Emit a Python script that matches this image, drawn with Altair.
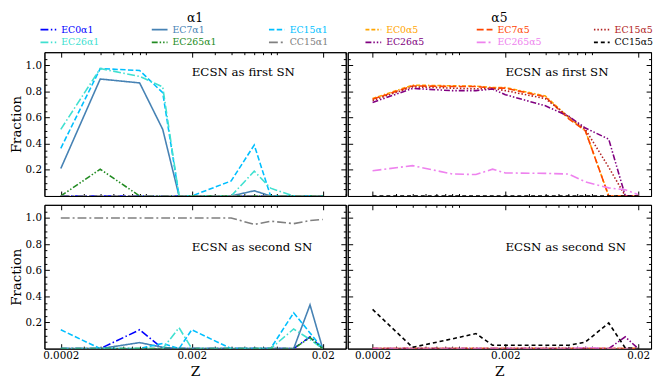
import altair as alt
import pandas as pd

FONT = "DejaVu Serif"

# metallicity grid
Z = [0.0002, 0.0004, 0.0008, 0.0012, 0.0016, 0.002, 0.004, 0.006, 0.008, 0.012, 0.016, 0.02]

# series names, colours and dash styles
NAMES_A1 = ["EC0α1", "EC7α1", "EC15α1", "EC26α1", "EC265α1", "CC15α1"]
NAMES_A5 = ["EC0α5", "EC7α5", "EC15α5", "EC26α5", "EC265α5", "CC15α5"]
COLORS_A1 = ["#0000ff", "#4682b4", "#00bfff", "#40e0d0", "#228b22", "#808080"]
COLORS_A5 = ["#ffa500", "#ff4500", "#b22222", "#800080", "#ee82ee", "#000000"]
DASH_A1 = [[8, 2.5, 1.5, 2.5], [1, 0], [5.5, 2.4], [8, 2.5, 1.5, 2.5], [6, 2, 1.5, 2, 1.5, 2], [9, 3, 2, 3]]
DASH_A5 = [[4, 2, 4, 2, 1.5, 2], [7, 3], [1.5, 2], [6, 2, 1.5, 2, 1.5, 2], [9, 3, 2, 3], [4, 3]]

GROUP_TITLES = ["α1", "α5"]
PANEL_TEXT = ["ECSN as first SN", "ECSN as second SN"]
PANEL_TEXT_Y = [0.95, 0.78]

# ECSN as first SN
FIRST_A1 = {
    "EC0α1":   [0, 0, 0, 0, 0, 0, 0, 0, 0, 0, 0, 0],
    "EC7α1":   [0.21, 0.895, 0.865, 0.51, 0, 0, 0, 0.04, 0, 0, 0, 0],
    "EC15α1":  [0.365, 0.975, 0.96, 0.79, 0, 0, 0.115, 0.39, 0, 0, 0, 0],
    "EC26α1":  [0.51, 0.975, 0.915, 0.835, 0, 0, 0, 0.19, 0.06, 0, 0, 0],
    "EC265α1": [0, 0.205, 0, 0, 0, 0, 0, 0, 0, 0, 0, 0],
    "CC15α1":  [0, 0, 0, 0, 0, 0, 0, 0, 0, 0, 0, 0],
}
FIRST_A5 = {
    "EC0α5":   [0.745, 0.848, 0.843, 0.84, 0.83, 0.83, 0.765, 0.60, 0.50, 0, 0, 0],
    "EC7α5":   [0.74, 0.842, 0.838, 0.838, 0.825, 0.825, 0.758, 0.59, 0.50, 0, 0, 0],
    "EC15α5":  [0.73, 0.835, 0.825, 0.82, 0.823, 0.806, 0.745, 0.607, 0.51, 0.22, 0, 0],
    "EC26α5":  [0.716, 0.823, 0.806, 0.806, 0.818, 0.775, 0.69, 0.61, 0.52, 0.435, 0, 0],
    "EC265α5": [0.193, 0.232, 0.168, 0.164, 0.205, 0.176, 0.173, 0.168, 0.108, 0.062, 0.047, 0.01],
    "CC15α5":  [0, 0, 0, 0, 0, 0, 0, 0, 0, 0, 0, 0],
}
# ECSN as second SN
SECOND_A1 = {
    "EC0α1":   [0, 0, 0.144, 0, 0, 0, 0, 0, 0, 0, 0.09, 0],
    "EC7α1":   [0, 0, 0.046, 0.01, 0, 0, 0, 0, 0, 0, 0.335, 0],
    "EC15α1":  [0.144, 0, 0, 0.04, 0, 0.144, 0, 0, 0, 0.274, 0.12, 0],
    "EC26α1":  [0, 0, 0, 0, 0.16, 0, 0, 0, 0, 0.15, 0.07, 0],
    "EC265α1": [0, 0, 0, 0, 0, 0, 0, 0, 0, 0, 0.085, 0],
    "CC15α1":  [1.0, 1.0, 1.0, 1.0, 1.0, 1.0, 1.0, 0.95, 0.975, 0.956, 0.98, 0.988],
}
SECOND_A5 = {
    "EC0α5":   [0, 0, 0, 0, 0, 0, 0, 0, 0, 0, 0, 0],
    "EC7α5":   [0, 0, 0, 0, 0, 0, 0, 0, 0, 0, 0, 0],
    "EC15α5":  [0, 0, 0, 0, 0, 0, 0, 0, 0, 0, 0, 0],
    "EC26α5":  [0, 0, 0, 0, 0, 0, 0, 0, 0, 0, 0.09, 0],
    "EC265α5": [0, 0, 0, 0, 0, 0, 0, 0, 0.008, 0, 0, 0],
    "CC15α5":  [0.30, 0.01, 0.075, 0.115, 0.026, 0.026, 0.026, 0.026, 0.05, 0.196, 0.005, 0],
}

X_MAJOR = [0.0002, 0.002, 0.02]
X_TICKS = [0.0002, 0.0003, 0.0004, 0.0005, 0.0006, 0.0007, 0.0008, 0.0009,
           0.002, 0.003, 0.004, 0.005, 0.006, 0.007, 0.008, 0.009, 0.02, 0.03]
Y_MAJOR = [0.2, 0.4, 0.6, 0.8, 1.0]
Y_TICKS = [round(0.05 * i, 2) for i in range(1, 22)]
XDOM_LEFT = [0.00015, 0.03]
XDOM_RIGHT = [0.00013, 0.025]
YDOM = [0, 1.1]

W_LEFT, W_RIGHT, H = 306, 308, 146


def arr(vals):
    return "[" + ",".join(repr(v) for v in vals) + "]"


def is_major(vals):
    return f"indexof({arr(vals)}, datum.value) >= 0"


def tick_size(vals):
    return {"expr": f"{is_major(vals)} ? -5 : -2.5"}


def x_axis(orient, labels, title):
    kw = dict(orient=orient, values=X_TICKS, grid=False, tickSize=tick_size(X_MAJOR),
              tickColor="black", domainColor="black", labels=labels,
              labelFont=FONT, labelFontSize=10.5, labelColor="black", labelPadding=7,
              labelExpr=f"{is_major(X_MAJOR)} ? format(datum.value, '~g') : ''",
              labelFlush=False, labelOverlap=False)
    if title:
        kw.update(title=title, titleFont=FONT, titleFontSize=14, titleFontWeight="normal",
                  titleColor="black", titlePadding=1)
    else:
        kw.update(title=None)
    return alt.Axis(**kw)


def y_axis(orient, labels, title):
    kw = dict(orient=orient, values=Y_TICKS, grid=False, tickSize=tick_size(Y_MAJOR),
              tickColor="black", domainColor="black", labels=labels,
              labelFont=FONT, labelFontSize=10.5, labelColor="black", labelPadding=8,
              labelExpr=f"{is_major(Y_MAJOR)} ? format(datum.value, '.1f') : ''",
              labelOverlap=False, labelFlush=False)
    if title:
        kw.update(title=title, titleFont=FONT, titleFontSize=13.5, titleFontWeight="normal",
                  titleColor="black", titlePadding=2)
    else:
        kw.update(title=None)
    return alt.Axis(**kw)


def legend(names, colors, lx, ly):
    color_expr = f"{arr(colors)}[indexof({arr(names)}, datum.value)]"
    return alt.Legend(title=None, orient="none", legendX=lx, legendY=ly, columns=3,
                      direction="horizontal",
                      symbolType="stroke", symbolSize=256, symbolStrokeWidth=1.8,
                      labelFont=FONT, labelFontSize=9.5, labelColor={"expr": color_expr},
                      labelOffset=4, rowPadding=3, columnPadding=52, padding=0,
                      clipHeight=10, gridAlign="each")


def long_df(names, table):
    rows = []
    for n in names:
        for z, v in zip(Z, table[n]):
            rows.append({"Z": z, "frac": v, "series": n})
    return pd.DataFrame(rows)


def panel(names, colors, dashes, table, xdom, width, row,
          bottom_labels, left_labels, lg, title=None):
    xscale = alt.Scale(type="log", domain=xdom, nice=False)
    yscale = alt.Scale(domain=YDOM, nice=False, zero=False)
    df = long_df(names, table)
    lines = alt.Chart(df).mark_line(strokeWidth=1.6, clip=True).encode(
        x=alt.X("Z:Q", scale=xscale,
                axis=x_axis("bottom", bottom_labels, "Z" if bottom_labels else None)),
        y=alt.Y("frac:Q", scale=yscale,
                axis=y_axis("left", left_labels, "Fraction" if left_labels else None)),
        color=alt.Color("series:N", scale=alt.Scale(domain=names, range=colors), legend=lg),
        strokeDash=alt.StrokeDash("series:N", scale=alt.Scale(domain=names, range=dashes), legend=lg),
    )
    ann_df = pd.DataFrame({"Z": [0.002], "frac": [PANEL_TEXT_Y[row]], "label": [PANEL_TEXT[row]]})
    ann = alt.Chart(ann_df).mark_text(align="left", baseline="middle", font=FONT,
                                      fontSize=12, color="black").encode(
        x=alt.X("Z:Q", scale=xscale, axis=x_axis("top", False, None)),
        y=alt.Y("frac:Q", scale=yscale, axis=y_axis("right", False, None)),
        text="label:N",
    )
    layers = [lines, ann]
    if title:
        tdf = pd.DataFrame({"label": [title]})
        layers.append(
            alt.Chart(tdf).mark_text(align="center", baseline="middle", font=FONT,
                                     fontSize=12.5, color="black").encode(
                x=alt.value(width / 2), y=alt.value(-35), text="label:N")
        )
    return alt.layer(*layers).resolve_axis(x="independent", y="independent").properties(
        width=width, height=H)


lg1 = legend(NAMES_A1, COLORS_A1, -5, -28)
lg5 = legend(NAMES_A5, COLORS_A5, 17, -28)

TL = panel(NAMES_A1, COLORS_A1, DASH_A1, FIRST_A1, XDOM_LEFT, W_LEFT, 0,
           False, True, lg1, title=GROUP_TITLES[0])
BL = panel(NAMES_A1, COLORS_A1, DASH_A1, SECOND_A1, XDOM_LEFT, W_LEFT, 1,
           True, True, lg1)
TR = panel(NAMES_A5, COLORS_A5, DASH_A5, FIRST_A5, XDOM_RIGHT, W_RIGHT, 0,
           False, False, lg5, title=GROUP_TITLES[1])
BR = panel(NAMES_A5, COLORS_A5, DASH_A5, SECOND_A5, XDOM_RIGHT, W_RIGHT, 1,
           True, False, lg5)

left_col = alt.vconcat(TL, BL, spacing=7).resolve_scale(color="shared", strokeDash="shared")
right_col = alt.vconcat(TR, BR, spacing=7).resolve_scale(color="shared", strokeDash="shared")

chart = alt.hconcat(left_col, right_col, spacing=0).resolve_scale(
    color="independent", strokeDash="independent"
).properties(padding=0, background="white").configure_view(stroke="black", strokeWidth=1)

chart.save("out.html", embed_options={"renderer": "svg", "actions": False})
